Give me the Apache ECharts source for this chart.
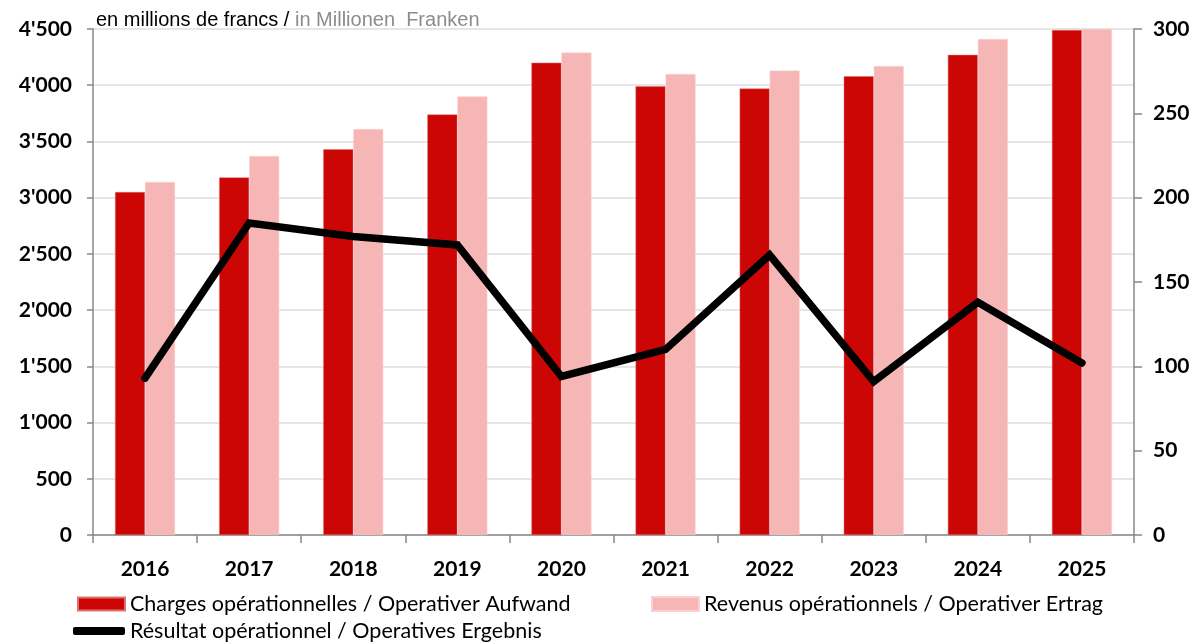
<!DOCTYPE html>
<html><head><meta charset="utf-8">
<script src="https://cdn.jsdelivr.net/npm/echarts@6/dist/echarts.min.js"></script>
<style>html,body{margin:0;padding:0;background:#fff}#c{width:1199px;height:643px}</style>
</head><body><div id="c"></div>
<script>
var years = ['2016','2017','2018','2019','2020','2021','2022','2023','2024','2025'];
var charges = [3050, 3180, 3430, 3740, 4200, 3990, 3970, 4080, 4270, 4490];
var revenus = [3140, 3370, 3610, 3900, 4290, 4100, 4130, 4170, 4410, 4500];
var resultat = [93, 185, 177, 172, 94, 110, 166, 91, 138, 102];
var nameCharges = 'Charges opérationnelles / Operativer Aufwand';
var nameRevenus = 'Revenus opérationnels / Operativer Ertrag';
var nameResultat = 'Résultat opérationnel / Operatives Ergebnis';

var chart = echarts.init(document.getElementById('c'));
var lblFont = {fontFamily: 'Lato', fontWeight: 'bold', fontSize: 21, color: '#000'};
var legFont = {fontFamily: 'Lato', fontSize: 21.5, color: '#000'};
chart.setOption({
  animation: false,
  title: {
    left: 91, top: 5,
    text: '{a|en millions de francs / }{b|in Millionen  Franken}',
    textStyle: {fontWeight: 'normal', rich: {
      a: {fontFamily: 'Liberation Sans', fontWeight: 'normal', fontSize: 20, color: '#000'},
      b: {fontFamily: 'Liberation Sans', fontWeight: 'normal', fontSize: 20, color: '#8c8c8c'}
    }}
  },
  grid: {left: 93, right: 65, top: 29, bottom: 108},
  legend: [
    {left: 72, top: 588, itemWidth: 47, itemHeight: 13, icon: 'rect', textStyle: legFont, data: [nameCharges]},
    {left: 646, top: 588, itemWidth: 47, itemHeight: 14, icon: 'rect', textStyle: legFont, data: [nameRevenus]},
    {left: 68, top: 615, itemWidth: 52, itemHeight: 8, icon: 'roundRect', textStyle: legFont, data: [{name: nameResultat, itemStyle: {color: '#000'}}]}
  ],
  xAxis: {
    type: 'category', data: years,
    axisLine: {lineStyle: {color: '#888', width: 1.5}},
    axisTick: {show: true, length: 8, lineStyle: {color: '#888', width: 1.5}},
    axisLabel: Object.assign({margin: 24}, lblFont),
    splitLine: {show: false}
  },
  yAxis: [
    {type: 'value', min: 0, max: 4500, interval: 500,
     axisLine: {show: true, lineStyle: {color: '#888', width: 1.5}},
     axisTick: {show: true, length: 6, lineStyle: {color: '#888', width: 1.5}},
     axisLabel: Object.assign({margin: 21, formatter: function(v){ return String(v).replace(/\B(?=(\d{3})+(?!\d))/g, "'"); }}, lblFont),
     splitLine: {lineStyle: {color: '#dedede', width: 1.5}}},
    {type: 'value', min: 0, max: 300, interval: 50, position: 'right',
     axisLine: {show: true, lineStyle: {color: '#888', width: 1.5}},
     axisTick: {show: true, length: 8, lineStyle: {color: '#888', width: 1.5}},
     axisLabel: Object.assign({margin: 19}, lblFont),
     splitLine: {show: false}}
  ],
  series: [
    {name: nameCharges, type: 'bar', data: charges, barWidth: 30, barGap: '0%',
     itemStyle: {color: '#cc0605', borderColor: '#e07070', borderWidth: 0.5}},
    {name: nameRevenus, type: 'bar', data: revenus, barWidth: 30, barGap: '0%',
     itemStyle: {color: '#f7b6b6', borderColor: '#fbd0d0', borderWidth: 0.5}},
    {name: nameResultat, type: 'line', yAxisIndex: 1, data: resultat,
     symbol: 'none', lineStyle: {color: '#000', width: 7.5, cap: 'round', join: 'miter'},
     itemStyle: {color: '#000'}, z: 5}
  ]
});
</script></body></html>
